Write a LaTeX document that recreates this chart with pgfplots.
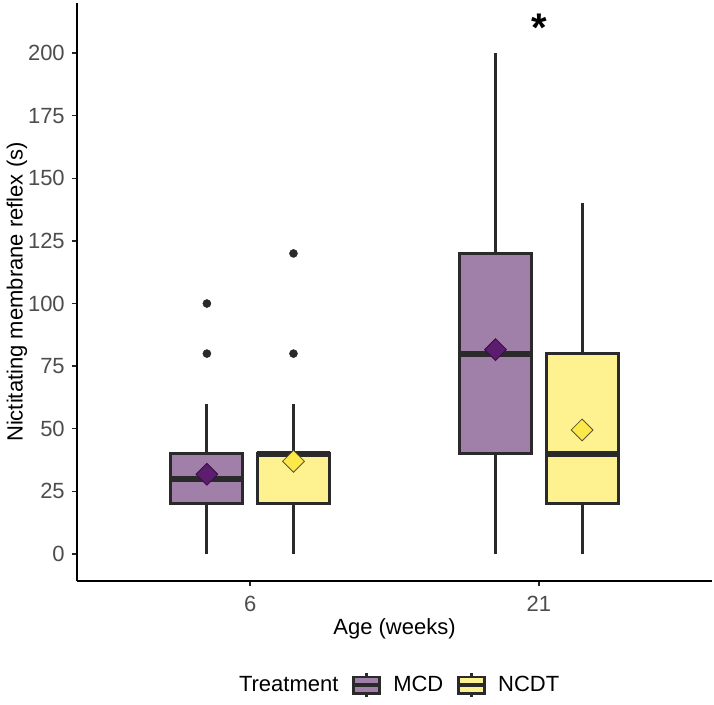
\documentclass[border=0pt]{standalone}
\usepackage{fontspec}
\setmainfont{Liberation Sans}
\usepackage{pgfplots}
\pgfplotsset{compat=1.18}

\definecolor{mcdfill}{HTML}{A080A8}
\definecolor{ncdtfill}{HTML}{FEF290}
\definecolor{boxline}{HTML}{2A2A2A}
\definecolor{mcdmean}{HTML}{5C1D6E}
\definecolor{mcdmeanline}{HTML}{3A0C46}
\definecolor{ncdtmean}{HTML}{FDE84A}
\definecolor{ncdtmeanline}{HTML}{5A5530}
\definecolor{ticktext}{HTML}{4D4D4D}

\newcommand{\chartfont}{\fontsize{16.5}{19.8}\selectfont}

\pgfplotsset{
    boxedge/.style={draw=boxline, line width=2.2pt, line join=miter},
    whisk/.style={boxline, line width=2.2pt},
    med/.style={boxline, line width=4.5pt},
    outl/.style={only marks, mark=*, mark size=3pt, mark options={fill=boxline, draw=boxline}},
}

\begin{document}
\begin{tikzpicture}
\path[use as bounding box] (-57.75pt,-92.25pt) rectangle (477.75pt,435.75pt);
\begin{axis}[
    scale only axis,
    width=476.25pt, height=433.5pt,
    xmin=0.4, xmax=2.6,
    ymin=-10.8, ymax=220,
    axis x line*=bottom, axis y line*=left,
    axis line style={line width=1.1pt, black},
    xtick={1,2}, xticklabels={6,21},
    ytick={0,25,...,200},
    tick align=outside,
    major tick length=4pt,
    tick style={line width=1.1pt, color=black!85},
    /pgf/number format/assume math mode=true,
    ticklabel style={font=\chartfont, text=ticktext},
    xticklabel style={anchor=base, yshift=-18.5pt},
    yticklabel style={anchor=east, inner sep=0pt, xshift=-5pt},
    xlabel={Age (weeks)},
    xlabel style={font=\chartfont, at={(axis description cs:0.5,-0.092)}, anchor=base},
    ylabel={Nictitating membrane reflex (s)},
    ylabel style={font=\chartfont, at={(axis description cs:-0.0945,0.5)}, anchor=center},
    clip=false,
    legend columns=3,
    legend style={at={(axis description cs:0.5,-0.18)}, anchor=center,
        draw=none, fill=none, font=\chartfont,
        /tikz/every odd column/.append style={column sep=7pt},
        /tikz/every even column/.append style={column sep=8pt}},
]

% whiskers
\addplot[whisk, forget plot] coordinates {(0.85,0) (0.85,20)};
\addplot[whisk, forget plot] coordinates {(0.85,40) (0.85,60)};
\addplot[whisk, forget plot] coordinates {(1.15,0) (1.15,20)};
\addplot[whisk, forget plot] coordinates {(1.15,40) (1.15,60)};
\addplot[whisk, forget plot] coordinates {(1.85,0) (1.85,40)};
\addplot[whisk, forget plot] coordinates {(1.85,120) (1.85,200)};
\addplot[whisk, forget plot] coordinates {(2.15,0) (2.15,20)};
\addplot[whisk, forget plot] coordinates {(2.15,80) (2.15,140)};

% boxes (lower quartile to upper quartile)
\addplot[boxedge, fill=mcdfill, forget plot] coordinates {(0.725,20) (0.975,20) (0.975,40) (0.725,40)} -- cycle;
\addplot[boxedge, fill=ncdtfill, forget plot] coordinates {(1.025,20) (1.275,20) (1.275,40) (1.025,40)} -- cycle;
\addplot[boxedge, fill=mcdfill, forget plot] coordinates {(1.725,40) (1.975,40) (1.975,120) (1.725,120)} -- cycle;
\addplot[boxedge, fill=ncdtfill, forget plot] coordinates {(2.025,20) (2.275,20) (2.275,80) (2.025,80)} -- cycle;

% medians
\addplot[med, forget plot] coordinates {(0.725,30) (0.975,30)};
\addplot[med, forget plot] coordinates {(1.025,40) (1.275,40)};
\addplot[med, forget plot] coordinates {(1.725,80) (1.975,80)};
\addplot[med, forget plot] coordinates {(2.025,40) (2.275,40)};

% outliers
\addplot[outl, forget plot] coordinates {(0.85,80) (0.85,100) (1.15,80) (1.15,120)};

% means
\addplot[forget plot, only marks, mark=square*, mark size=5.8pt,
    mark options={rotate=45, fill=mcdmean, draw=mcdmeanline, line width=0.6pt}]
    coordinates {(0.85,31.8) (1.85,81.6)};
\addplot[forget plot, only marks, mark=square*, mark size=5.8pt,
    mark options={rotate=45, fill=ncdtmean, draw=ncdtmeanline, line width=0.6pt}]
    coordinates {(1.15,37) (2.15,49.5)};

\node[font=\fontsize{30}{30}\selectfont\bfseries] at (axis cs:2,210) {*};

\addlegendimage{empty legend}
\addlegendentry{Treatment}
\addlegendimage{legend image code/.code={
    \draw[draw=boxline, fill=mcdfill, line width=1.8pt] (0pt,-6.2pt) rectangle (19.5pt,6.2pt);
    \draw[boxline, line width=2.6pt] (0pt,0pt)--(19.5pt,0pt);
    \draw[boxline, line width=1.8pt] (9.75pt,6.2pt)--(9.75pt,9.3pt) (9.75pt,-6.2pt)--(9.75pt,-9.3pt);}}
\addlegendentry{MCD}
\addlegendimage{legend image code/.code={
    \draw[draw=boxline, fill=ncdtfill, line width=1.8pt] (0pt,-6.2pt) rectangle (19.5pt,6.2pt);
    \draw[boxline, line width=2.6pt] (0pt,0pt)--(19.5pt,0pt);
    \draw[boxline, line width=1.8pt] (9.75pt,6.2pt)--(9.75pt,9.3pt) (9.75pt,-6.2pt)--(9.75pt,-9.3pt);}}
\addlegendentry{NCDT}
\end{axis}
\end{tikzpicture}
\end{document}
